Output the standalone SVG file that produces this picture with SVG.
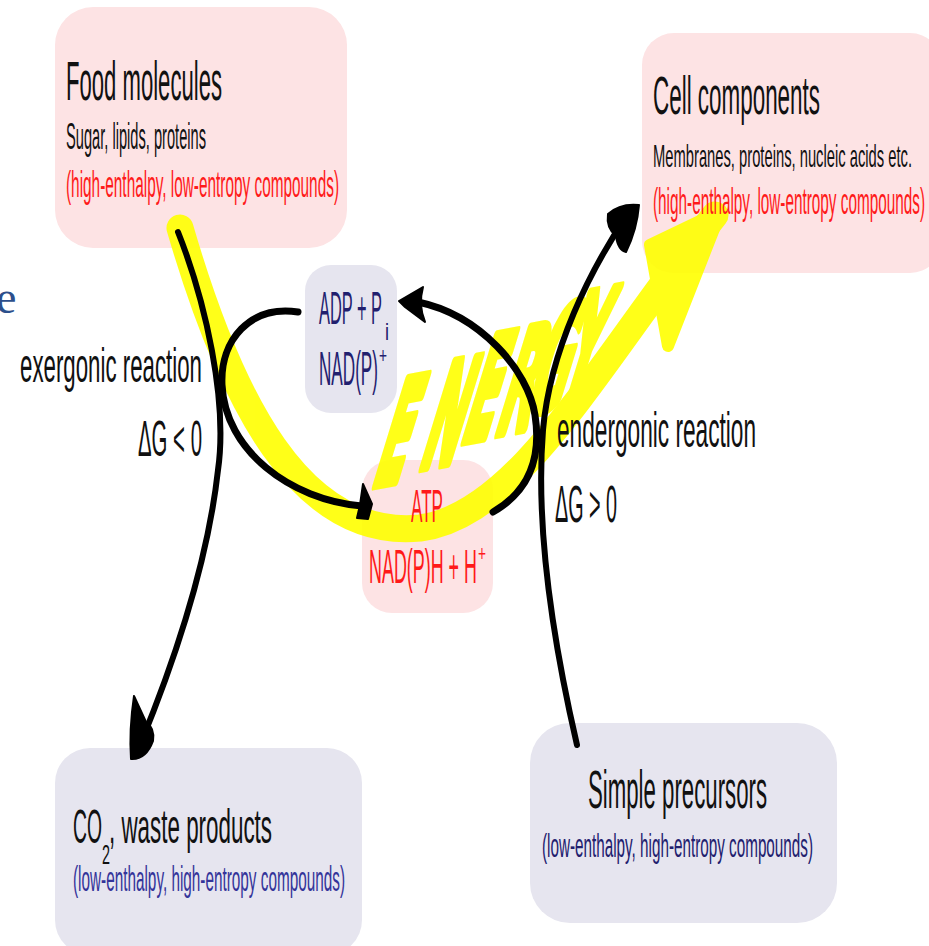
<svg xmlns="http://www.w3.org/2000/svg" width="929" height="946" viewBox="0 0 929 946">
<style>
.pink{fill:#fde3e4}
.lav{fill:#e6e5ef}
text{font-family:"Liberation Sans",Arial,sans-serif}
.blk{fill:#111}
.red{fill:#ff1a1a}
.navy{fill:#22206e}
.blue{fill:#34349a}
.ln{fill:none;stroke:#000;stroke-linecap:round;stroke-linejoin:round}
.ah{fill:#000;stroke:#000;stroke-width:2;stroke-linejoin:round}
.yl{fill:none;stroke:#ffff00;stroke-linecap:round;stroke-linejoin:round}
</style>
<rect width="929" height="946" fill="#fff"/>
<text x="-4" y="313" font-size="46" fill="#2c4f8c" style="font-family:'Liberation Serif',serif">e</text>

<g id="food-molecules">
<rect class="pink" x="55" y="7" width="292" height="241" rx="38"/>
</g>
<g id="cell-components">
<rect class="pink" x="642" y="33" width="300" height="240" rx="32"/>
</g>
<g id="adp">
<rect class="lav" x="305" y="265" width="92" height="148" rx="26"/>
</g>
<g id="atp">
<rect class="pink" x="362" y="460" width="131" height="153" rx="30"/>
</g>
<g id="co2">
<rect class="lav" x="55" y="748" width="307" height="207" rx="35"/>
</g>
<g id="simple-precursors">
<rect class="lav" x="530" y="723" width="307" height="200" rx="40"/>
</g>

<g id="energy-arrow" opacity="0.9">
<path class="yl" stroke-width="27" d="M 180 228 C 230 400, 300 540, 420 528 C 520 515, 600 360, 715 215"/>
<path d="M 650 245 L 721 211 L 668 346 Z" fill="#ffff00" stroke="#ffff00" stroke-width="12" stroke-linejoin="round"/>
<text transform="translate(370,486) rotate(-11) skewX(-28) scale(0.34,1)" x="0 132 240 340 420 510" y="0 -8 -26 -27 -42 -50" font-size="134" font-weight="bold" fill="#ffff00" stroke="#ffff00" stroke-width="10" stroke-linejoin="round" style="font-family:'DejaVu Sans',sans-serif">ENERGY</text>
</g>

<g id="connectors">
<path class="ln" stroke-width="6" d="M 178 232 C 205 300, 228 400, 218 470 C 208 560, 175 660, 140 745"/>
<path class="ah" d="M 134 696 Q 129 730 131 759 Q 146 760 153 741 Q 155 728 146 722 Z"/>
<path class="ln" stroke-width="7" d="M 298 312 C 250 305, 220 340, 222 385 C 225 450, 290 500, 362 506"/>
<path class="ah" d="M 363 484 L 372 504 L 368 519 L 357 518 L 360 505 Z"/>
<path class="ln" stroke-width="7" d="M 493 512 C 528 492, 542 460, 535 415 C 528 370, 480 315, 418 302"/>
<path class="ah" d="M 423 287 L 399 301 L 405 307 L 425 322 Q 418 305 423 287 Z"/>
<path class="ln" stroke-width="6" d="M 577 745 C 555 650, 535 530, 543 430 C 550 350, 590 270, 628 214"/>
<path class="ah" d="M 608 214 Q 620 203 639 205 Q 637 230 626 252 Q 618 250 616 236 Q 606 228 608 214 Z"/>
</g>

<g id="labels">
<text class="blk" x="66" y="100" font-size="56" textLength="156" lengthAdjust="spacingAndGlyphs">Food molecules</text>
<text class="blk" x="66" y="149" font-size="36" textLength="140" lengthAdjust="spacingAndGlyphs">Sugar, lipids, proteins</text>
<text class="red" x="66" y="197" font-size="37" textLength="273" lengthAdjust="spacingAndGlyphs">(high-enthalpy, low-entropy compounds)</text>

<text class="blk" x="653" y="114" font-size="54" textLength="167" lengthAdjust="spacingAndGlyphs">Cell components</text>
<text class="blk" x="653" y="167" font-size="32" textLength="259" lengthAdjust="spacingAndGlyphs">Membranes, proteins, nucleic acids etc.</text>
<text class="red" x="653" y="214" font-size="37" textLength="272" lengthAdjust="spacingAndGlyphs">(high-enthalpy, low-entropy compounds)</text>

<text class="navy" x="319" y="324" font-size="47" textLength="63" lengthAdjust="spacingAndGlyphs">ADP + P</text>
<text class="navy" x="385" y="340" font-size="24" textLength="4" lengthAdjust="spacingAndGlyphs">i</text>
<text class="navy" x="319" y="385" font-size="48" textLength="59" lengthAdjust="spacingAndGlyphs">NAD(P)</text>
<text class="navy" x="379" y="363" font-size="22" textLength="8" lengthAdjust="spacingAndGlyphs">+</text>

<text class="red" x="411" y="522" font-size="47" textLength="32" lengthAdjust="spacingAndGlyphs">ATP</text>
<text class="red" x="369" y="583" font-size="48" textLength="108" lengthAdjust="spacingAndGlyphs">NAD(P)H + H</text>
<text class="red" x="478" y="561" font-size="22" textLength="8" lengthAdjust="spacingAndGlyphs">+</text>

<text class="blk" x="73" y="843" font-size="49" textLength="29" lengthAdjust="spacingAndGlyphs">CO</text>
<text class="blk" x="102" y="864" font-size="28" textLength="8" lengthAdjust="spacingAndGlyphs">2</text>
<text class="blk" x="109" y="843" font-size="49" textLength="163" lengthAdjust="spacingAndGlyphs">, waste products</text>
<text class="blue" x="73" y="891" font-size="35" textLength="272" lengthAdjust="spacingAndGlyphs">(low-enthalpy, high-entropy compounds)</text>

<text class="blk" x="588" y="808" font-size="54" textLength="179" lengthAdjust="spacingAndGlyphs">Simple precursors</text>
<text class="navy" x="542" y="857" font-size="34" textLength="271" lengthAdjust="spacingAndGlyphs">(low-enthalpy, high-entropy compounds)</text>

<text class="blk" x="20" y="382" font-size="48" textLength="182" lengthAdjust="spacingAndGlyphs">exergonic reaction</text>
<text class="blk" x="138" y="456" font-size="50" textLength="64" lengthAdjust="spacingAndGlyphs">ΔG &lt; 0</text>
<text class="blk" x="557" y="447" font-size="50" textLength="199" lengthAdjust="spacingAndGlyphs">endergonic reaction</text>
<text class="blk" x="555" y="522" font-size="52" textLength="62" lengthAdjust="spacingAndGlyphs">ΔG &gt; 0</text>
</g>
</svg>
